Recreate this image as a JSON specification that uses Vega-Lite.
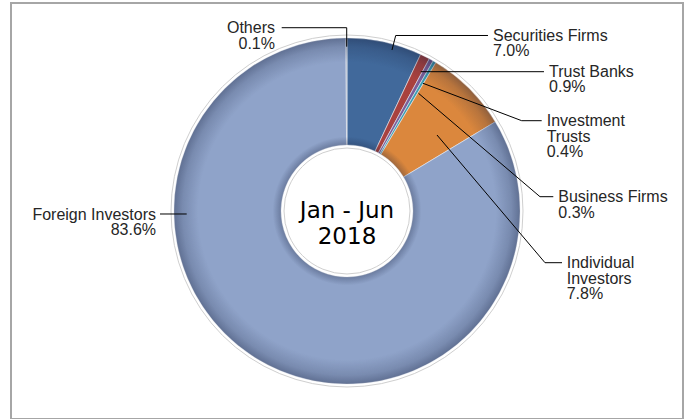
{
  "$schema": "https://vega.github.io/schema/vega-lite/v6.json",
  "width": 672,
  "height": 416,
  "autosize": {"type": "none"},
  "padding": {"left": 11, "top": 3, "right": 8, "bottom": 0},
  "background": "white",
  "data": {"values": [
    {"rank": 1, "category": "Securities Firms", "share": 7.0},
    {"rank": 2, "category": "Trust Banks", "share": 0.9},
    {"rank": 3, "category": "Investment Trusts", "share": 0.4},
    {"rank": 4, "category": "Business Firms", "share": 0.3},
    {"rank": 5, "category": "Individual Investors", "share": 7.8},
    {"rank": 6, "category": "Foreign Investors", "share": 83.6},
    {"rank": 7, "category": "Others", "share": 0.1}
  ]},
  "transform": [
    {"calculate": "format(datum.share, '.1f') + '%'", "as": "pct"},
    {"calculate": "datum.category + '|' + datum.pct", "as": "lbl"},
    {"calculate": "replace(datum.category, ' ', '|') + '|' + datum.pct", "as": "lbl2"}
  ],
  "layer": [
    {
      "mark": {"type": "arc", "radius": 173, "innerRadius": 66, "stroke": "#e6e9f0", "strokeWidth": 0.6},
      "encoding": {
        "theta": {"field": "share", "type": "quantitative", "stack": true},
        "order": {"field": "rank", "type": "quantitative"},
        "color": {
          "field": "category", "type": "nominal", "legend": null,
          "scale": {
            "domain": ["Securities Firms", "Trust Banks", "Investment Trusts", "Business Firms", "Individual Investors", "Foreign Investors", "Others"],
            "range": ["#41699b", "#a9413e", "#7b5e99", "#3d9db3", "#db873d", "#8fa3c9", "#9aa9bf"]
          }
        }
      }
    },
    {
      "transform": [{"aggregate": [{"op": "sum", "field": "share", "as": "total"}]}],
      "mark": {
        "type": "arc", "radius": 173, "innerRadius": 66,
        "fill": {
          "gradient": "radial", "x1": 0.5, "y1": 0.5, "r1": 0, "x2": 0.5, "y2": 0.5, "r2": 0.5,
          "stops": [
            {"offset": 0, "color": "rgba(20,30,60,0)"},
            {"offset": 0.38, "color": "rgba(20,30,60,0.30)"},
            {"offset": 0.43, "color": "rgba(20,30,60,0.0)"},
            {"offset": 0.86, "color": "rgba(20,30,60,0.0)"},
            {"offset": 0.95, "color": "rgba(20,30,60,0.18)"},
            {"offset": 1, "color": "rgba(20,30,60,0.38)"}
          ]
        }
      },
      "encoding": {"theta": {"field": "total", "type": "quantitative", "stack": true}}
    },
    {
      "transform": [{"aggregate": [{"op": "sum", "field": "share", "as": "total"}]}],
      "mark": {"type": "arc", "radius": 176, "innerRadius": 63, "fill": "#ffffff", "fillOpacity": 0, "stroke": "#cfcfcf", "strokeWidth": 1},
      "encoding": {"theta": {"field": "total", "type": "quantitative", "stack": true}}
    },
    {
      "transform": [{"aggregate": [{"op": "sum", "field": "share", "as": "total"}]}],
      "mark": {"type": "text", "font": "DejaVu Sans", "fontSize": 23, "lineHeight": 26, "align": "center", "baseline": "middle", "color": "#000000"},
      "encoding": {"text": {"value": ["Jan - Jun", "2018"]}}
    },
    {
      "transform": [{"filter": "datum.category == 'Securities Firms'"}],
      "layer": [
        {
          "mark": {"type": "text", "align": "left", "baseline": "alphabetic", "font": "Liberation Sans", "fontSize": 16, "lineHeight": 15.5, "lineBreak": "|", "color": "#262626"},
          "encoding": {
            "text": {"field": "lbl"},
            "x": {"datum": 0.844, "type": "quantitative", "scale": {"domain": [-1.9422, 1.9422], "nice": false, "zero": false}, "axis": null},
            "y": {"datum": 0.9827, "type": "quantitative", "scale": {"domain": [-1.2023, 1.2023], "nice": false, "zero": false}, "axis": null}
          }
        },
        {
          "mark": {"type": "rule", "color": "#000000", "strokeWidth": 1},
          "encoding": {
            "x": {"datum": 0.2601, "type": "quantitative", "scale": {"domain": [-1.9422, 1.9422], "nice": false, "zero": false}, "axis": null},
            "y": {"datum": 0.9306, "type": "quantitative", "scale": {"domain": [-1.2023, 1.2023], "nice": false, "zero": false}, "axis": null},
            "x2": {"datum": 0.2815},
            "y2": {"datum": 1.0145}
          }
        },
        {
          "mark": {"type": "rule", "color": "#000000", "strokeWidth": 1},
          "encoding": {
            "x": {"datum": 0.2815, "type": "quantitative", "scale": {"domain": [-1.9422, 1.9422], "nice": false, "zero": false}, "axis": null},
            "y": {"datum": 1.0145, "type": "quantitative", "scale": {"domain": [-1.2023, 1.2023], "nice": false, "zero": false}, "axis": null},
            "x2": {"datum": 0.815},
            "y2": {"datum": 1.0145}
          }
        }
      ]
    },
    {
      "transform": [{"filter": "datum.category == 'Trust Banks'"}],
      "layer": [
        {
          "mark": {"type": "text", "align": "left", "baseline": "alphabetic", "font": "Liberation Sans", "fontSize": 16, "lineHeight": 15.5, "lineBreak": "|", "color": "#262626"},
          "encoding": {
            "text": {"field": "lbl"},
            "x": {"datum": 1.168, "type": "quantitative", "scale": {"domain": [-1.9422, 1.9422], "nice": false, "zero": false}, "axis": null},
            "y": {"datum": 0.7746, "type": "quantitative", "scale": {"domain": [-1.2023, 1.2023], "nice": false, "zero": false}, "axis": null}
          }
        },
        {
          "mark": {"type": "rule", "color": "#000000", "strokeWidth": 1},
          "encoding": {
            "x": {"datum": 0.426, "type": "quantitative", "scale": {"domain": [-1.9422, 1.9422], "nice": false, "zero": false}, "axis": null},
            "y": {"datum": 0.8052, "type": "quantitative", "scale": {"domain": [-1.2023, 1.2023], "nice": false, "zero": false}, "axis": null},
            "x2": {"datum": 1.1387},
            "y2": {"datum": 0.8052}
          }
        }
      ]
    },
    {
      "transform": [{"filter": "datum.category == 'Investment Trusts'"}],
      "layer": [
        {
          "mark": {"type": "text", "align": "left", "baseline": "alphabetic", "font": "Liberation Sans", "fontSize": 16, "lineHeight": 15.5, "lineBreak": "|", "color": "#262626"},
          "encoding": {
            "text": {"field": "lbl2"},
            "x": {"datum": 1.1543, "type": "quantitative", "scale": {"domain": [-1.9422, 1.9422], "nice": false, "zero": false}, "axis": null},
            "y": {"datum": 0.4913, "type": "quantitative", "scale": {"domain": [-1.2023, 1.2023], "nice": false, "zero": false}, "axis": null}
          }
        },
        {
          "mark": {"type": "rule", "color": "#000000", "strokeWidth": 1},
          "encoding": {
            "x": {"datum": 0.4393, "type": "quantitative", "scale": {"domain": [-1.9422, 1.9422], "nice": false, "zero": false}, "axis": null},
            "y": {"datum": 0.7382, "type": "quantitative", "scale": {"domain": [-1.2023, 1.2023], "nice": false, "zero": false}, "axis": null},
            "x2": {"datum": 1.0098},
            "y2": {"datum": 0.522}
          }
        },
        {
          "mark": {"type": "rule", "color": "#000000", "strokeWidth": 1},
          "encoding": {
            "x": {"datum": 1.0098, "type": "quantitative", "scale": {"domain": [-1.9422, 1.9422], "nice": false, "zero": false}, "axis": null},
            "y": {"datum": 0.522, "type": "quantitative", "scale": {"domain": [-1.2023, 1.2023], "nice": false, "zero": false}, "axis": null},
            "x2": {"datum": 1.1254},
            "y2": {"datum": 0.522}
          }
        }
      ]
    },
    {
      "transform": [{"filter": "datum.category == 'Business Firms'"}],
      "layer": [
        {
          "mark": {"type": "text", "align": "left", "baseline": "alphabetic", "font": "Liberation Sans", "fontSize": 16, "lineHeight": 15.5, "lineBreak": "|", "color": "#262626"},
          "encoding": {
            "text": {"field": "lbl"},
            "x": {"datum": 1.2214, "type": "quantitative", "scale": {"domain": [-1.9422, 1.9422], "nice": false, "zero": false}, "axis": null},
            "y": {"datum": 0.052, "type": "quantitative", "scale": {"domain": [-1.2023, 1.2023], "nice": false, "zero": false}, "axis": null}
          }
        },
        {
          "mark": {"type": "rule", "color": "#000000", "strokeWidth": 1},
          "encoding": {
            "x": {"datum": 0.4133, "type": "quantitative", "scale": {"domain": [-1.9422, 1.9422], "nice": false, "zero": false}, "axis": null},
            "y": {"datum": 0.6803, "type": "quantitative", "scale": {"domain": [-1.2023, 1.2023], "nice": false, "zero": false}, "axis": null},
            "x2": {"datum": 1.1156},
            "y2": {"datum": 0.0827}
          }
        },
        {
          "mark": {"type": "rule", "color": "#000000", "strokeWidth": 1},
          "encoding": {
            "x": {"datum": 1.1156, "type": "quantitative", "scale": {"domain": [-1.9422, 1.9422], "nice": false, "zero": false}, "axis": null},
            "y": {"datum": 0.0827, "type": "quantitative", "scale": {"domain": [-1.2023, 1.2023], "nice": false, "zero": false}, "axis": null},
            "x2": {"datum": 1.1925},
            "y2": {"datum": 0.0827}
          }
        }
      ]
    },
    {
      "transform": [{"filter": "datum.category == 'Individual Investors'"}],
      "layer": [
        {
          "mark": {"type": "text", "align": "left", "baseline": "alphabetic", "font": "Liberation Sans", "fontSize": 16, "lineHeight": 15.5, "lineBreak": "|", "color": "#262626"},
          "encoding": {
            "text": {"field": "lbl2"},
            "x": {"datum": 1.2699, "type": "quantitative", "scale": {"domain": [-1.9422, 1.9422], "nice": false, "zero": false}, "axis": null},
            "y": {"datum": -0.3295, "type": "quantitative", "scale": {"domain": [-1.2023, 1.2023], "nice": false, "zero": false}, "axis": null}
          }
        },
        {
          "mark": {"type": "rule", "color": "#000000", "strokeWidth": 1},
          "encoding": {
            "x": {"datum": 0.5202, "type": "quantitative", "scale": {"domain": [-1.9422, 1.9422], "nice": false, "zero": false}, "axis": null},
            "y": {"datum": 0.4393, "type": "quantitative", "scale": {"domain": [-1.2023, 1.2023], "nice": false, "zero": false}, "axis": null},
            "x2": {"datum": 1.1445},
            "y2": {"datum": -0.2988}
          }
        },
        {
          "mark": {"type": "rule", "color": "#000000", "strokeWidth": 1},
          "encoding": {
            "x": {"datum": 1.1445, "type": "quantitative", "scale": {"domain": [-1.9422, 1.9422], "nice": false, "zero": false}, "axis": null},
            "y": {"datum": -0.2988, "type": "quantitative", "scale": {"domain": [-1.2023, 1.2023], "nice": false, "zero": false}, "axis": null},
            "x2": {"datum": 1.2428},
            "y2": {"datum": -0.2988}
          }
        }
      ]
    },
    {
      "transform": [{"filter": "datum.category == 'Foreign Investors'"}],
      "layer": [
        {
          "mark": {"type": "text", "align": "right", "baseline": "alphabetic", "font": "Liberation Sans", "fontSize": 16, "lineHeight": 15.5, "lineBreak": "|", "color": "#262626"},
          "encoding": {
            "text": {"field": "lbl"},
            "x": {"datum": -1.104, "type": "quantitative", "scale": {"domain": [-1.9422, 1.9422], "nice": false, "zero": false}, "axis": null},
            "y": {"datum": -0.052, "type": "quantitative", "scale": {"domain": [-1.2023, 1.2023], "nice": false, "zero": false}, "axis": null}
          }
        },
        {
          "mark": {"type": "rule", "color": "#000000", "strokeWidth": 1},
          "encoding": {
            "x": {"datum": -1.0809, "type": "quantitative", "scale": {"domain": [-1.9422, 1.9422], "nice": false, "zero": false}, "axis": null},
            "y": {"datum": -0.0173, "type": "quantitative", "scale": {"domain": [-1.2023, 1.2023], "nice": false, "zero": false}, "axis": null},
            "x2": {"datum": -0.9266},
            "y2": {"datum": -0.0173}
          }
        }
      ]
    },
    {
      "transform": [{"filter": "datum.category == 'Others'"}],
      "layer": [
        {
          "mark": {"type": "text", "align": "right", "baseline": "alphabetic", "font": "Liberation Sans", "fontSize": 16, "lineHeight": 15.5, "lineBreak": "|", "color": "#262626"},
          "encoding": {
            "text": {"field": "lbl"},
            "x": {"datum": -0.4162, "type": "quantitative", "scale": {"domain": [-1.9422, 1.9422], "nice": false, "zero": false}, "axis": null},
            "y": {"datum": 1.0272, "type": "quantitative", "scale": {"domain": [-1.2023, 1.2023], "nice": false, "zero": false}, "axis": null}
          }
        },
        {
          "mark": {"type": "rule", "color": "#000000", "strokeWidth": 1},
          "encoding": {
            "x": {"datum": -0.3775, "type": "quantitative", "scale": {"domain": [-1.9422, 1.9422], "nice": false, "zero": false}, "axis": null},
            "y": {"datum": 1.0595, "type": "quantitative", "scale": {"domain": [-1.2023, 1.2023], "nice": false, "zero": false}, "axis": null},
            "x2": {"datum": -0.0017},
            "y2": {"datum": 1.0595}
          }
        },
        {
          "mark": {"type": "rule", "color": "#000000", "strokeWidth": 1},
          "encoding": {
            "x": {"datum": -0.0017, "type": "quantitative", "scale": {"domain": [-1.9422, 1.9422], "nice": false, "zero": false}, "axis": null},
            "y": {"datum": 1.0595, "type": "quantitative", "scale": {"domain": [-1.2023, 1.2023], "nice": false, "zero": false}, "axis": null},
            "x2": {"datum": -0.0017},
            "y2": {"datum": 0.9497}
          }
        }
      ]
    }
  ],
  "config": {
    "view": {"stroke": "#a6a6a6", "strokeWidth": 2}
  }
}
